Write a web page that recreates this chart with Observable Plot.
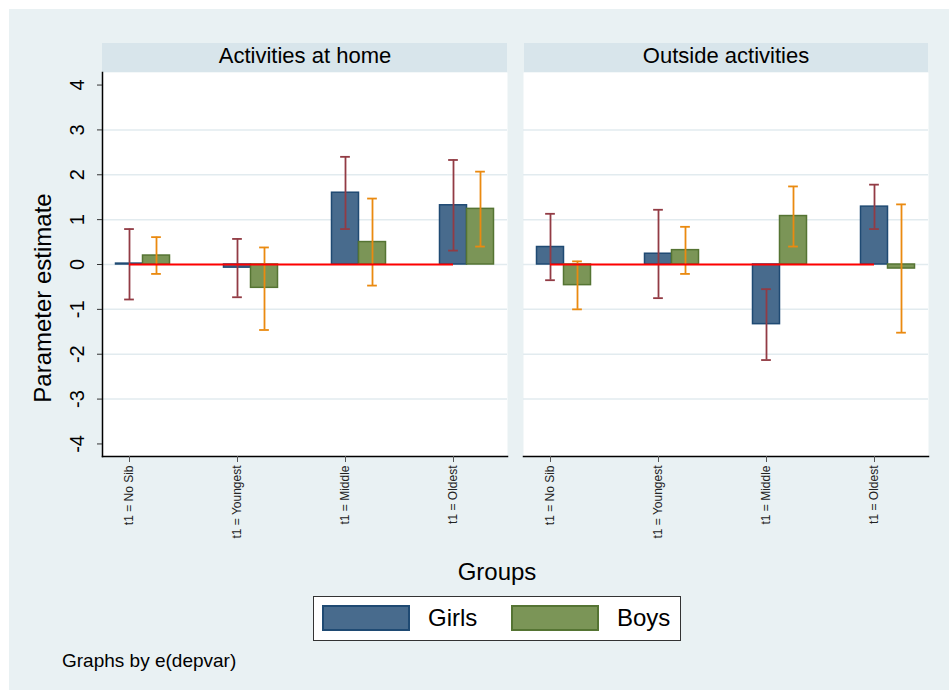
<!DOCTYPE html>
<html>
<head>
<meta charset="utf-8">
<script src="https://cdn.jsdelivr.net/npm/d3@7"></script>
<script src="https://cdn.jsdelivr.net/npm/@observablehq/plot@0.6"></script>
<style>
  html, body { margin: 0; padding: 0; background: #ffffff; }
  body { width: 949px; height: 690px; position: relative; overflow: hidden;
         font-family: "Liberation Sans", Arial, sans-serif; }
  #bg { position: absolute; left: 9px; top: 9px; width: 940px; height: 681px; background: #e9f1f3; }
  .strip { position: absolute; top: 43px; height: 29px; background: #d8e5eb; }
  #chart { position: absolute; left: 0; top: 0; }
  #ytitle { position: absolute; left: 43px; top: 298px; transform: translate(-50%, -50%) rotate(-90deg);
            font-size: 24px; white-space: nowrap; color: #000; }
  #xtitle { position: absolute; left: 497px; top: 572px; transform: translate(-50%, -50%);
            font-size: 24px; color: #000; }
  #legend { position: absolute; left: 313px; top: 596px; width: 366px; height: 43px; background: #fff;
            border: 1px solid #333; box-sizing: content-box; }
  .sw { position: absolute; top: 8px; width: 88px; height: 26px; box-sizing: border-box; border: 2px solid; }
  .lt { position: absolute; top: 21px; transform: translateY(-50%); font-size: 24px; color: #000; }
  #note { position: absolute; left: 62px; top: 661px; transform: translateY(-50%); font-size: 19px; color: #000; }
</style>
</head>
<body>
<div id="bg"></div>
<div class="strip" style="left:102px;width:405px"></div>
<div class="strip" style="left:524px;width:404px"></div>
<div id="chart"></div>
<div id="ytitle">Parameter estimate</div>
<div id="xtitle">Groups</div>
<div id="legend"></div>
<div id="note">Graphs by e(depvar)</div>
<script>
// ---- data ----
const panels = ["Activities at home", "Outside activities"];
const groups = ["t1 = No Sib", "t1 = Youngest", "t1 = Middle", "t1 = Oldest"];
const series = ["Girls", "Boys"];
const yTicks = [-4, -3, -2, -1, 0, 1, 2, 3, 4];
const gridTicks = [-3, -2, -1, 0, 1, 2, 3];

const homeGirls   = [0.02, -0.07, 1.60, 1.32];
const homeGirlsLo = [-0.78, -0.73, 0.79, 0.31];
const homeGirlsHi = [0.79, 0.57, 2.40, 2.33];
const homeBoys    = [0.20, -0.52, 0.50, 1.24];
const homeBoysLo  = [-0.21, -1.46, -0.47, 0.40];
const homeBoysHi  = [0.61, 0.38, 1.47, 2.07];

const outGirls    = [0.39, 0.24, -1.33, 1.29];
const outGirlsLo  = [-0.35, -0.75, -2.13, 0.79];
const outGirlsHi  = [1.13, 1.22, -0.55, 1.78];
const outBoys     = [-0.46, 0.32, 1.08, -0.09];
const outBoysLo   = [-1.00, -0.21, 0.40, -1.52];
const outBoysHi   = [0.07, 0.84, 1.74, 1.34];

const fillColors = {Girls: "#486b8d", Boys: "#7b9557"};
const strokeColors = {Girls: "#1f4a73", Boys: "#557433"};
const ciColors = {Girls: "#923b44", Boys: "#ea8a10"};

// ---- table built from arrays ----
const sources = [
  [panels[0], "Girls", homeGirls, homeGirlsLo, homeGirlsHi],
  [panels[0], "Boys", homeBoys, homeBoysLo, homeBoysHi],
  [panels[1], "Girls", outGirls, outGirlsLo, outGirlsHi],
  [panels[1], "Boys", outBoys, outBoysLo, outBoysHi]
];
const barWidth = 0.25;
const rows = [];
for (const [panel, s, v, lo, hi] of sources) {
  groups.forEach((g, i) => {
    const pos = i + series.indexOf(s) * barWidth;
    rows.push({panel, series: s, group: g, pos, value: v[i], lo: lo[i], hi: hi[i]});
  });
}
const capHalf = 0.045;

const chart = Plot.plot({
  width: 949,
  height: 690,
  marginTop: 72,
  marginBottom: 234,
  marginLeft: 102,
  marginRight: 21,
  style: {background: "transparent", fontFamily: "'Liberation Sans', Arial, sans-serif", color: "#000"},
  x: {domain: [-barWidth, groups.length - 1 + 2 * barWidth]},
  y: {domain: [-4.28, 4.28]},
  fx: {domain: panels, paddingInner: 16 / 421, paddingOuter: 0},
  marks: [
    Plot.frame({fill: "white", stroke: null}),
    Plot.gridY(gridTicks, {stroke: "#e2ebef", strokeOpacity: 1, strokeWidth: 1.5}),
    Plot.rect(rows, {
      fx: "panel",
      x1: d => d.pos - barWidth / 2, x2: d => d.pos + barWidth / 2,
      y1: 0, y2: "value",
      fill: d => fillColors[d.series], stroke: d => strokeColors[d.series], strokeWidth: 1.5
    }),
    Plot.ruleX(rows, {fx: "panel", x: "pos", y1: "lo", y2: "hi", stroke: d => ciColors[d.series], strokeWidth: 1.8}),
    Plot.ruleY(rows, {fx: "panel", y: "lo", x1: d => d.pos - capHalf, x2: d => d.pos + capHalf, stroke: d => ciColors[d.series], strokeWidth: 1.8}),
    Plot.ruleY(rows, {fx: "panel", y: "hi", x1: d => d.pos - capHalf, x2: d => d.pos + capHalf, stroke: d => ciColors[d.series], strokeWidth: 1.8}),
    Plot.ruleY(panels, {fx: d => d, y: () => 0, x1: () => 0, x2: () => groups.length - 1, stroke: "#ff0000", strokeWidth: 2}),
    Plot.frame({anchor: "bottom", stroke: "#000", strokeWidth: 1.5}),
    Plot.frame({anchor: "left", facetAnchor: "left", stroke: "#000", strokeWidth: 1.5}),
    Plot.axisY({ticks: yTicks, tickFormat: () => "", tickSize: 5, label: null, stroke: "#333"}),
    Plot.text(yTicks, {
      y: d => d, text: d => String(d), frameAnchor: "left", dx: -25,
      rotate: -90, textAnchor: "middle", lineAnchor: "middle",
      fontSize: 20, fill: "#000", facetAnchor: "left"
    }),
    Plot.axisX({ticks: groups.map((g, i) => i), tickFormat: i => groups[i], tickRotate: -90, tickSize: 6, tickPadding: 3, fontSize: 12, label: null, stroke: "#555", fill: "#222"}),
    Plot.axisFx({anchor: "top", tickSize: 0, tickPadding: 10, fontSize: 22, label: null})
  ]
});
document.getElementById("chart").appendChild(chart);

// legend
const legend = document.getElementById("legend");
const legendLayout = {Girls: [8, 114], Boys: [197, 303]};
for (const s of series) {
  const sw = document.createElement("div");
  sw.className = "sw";
  sw.style.left = legendLayout[s][0] + "px";
  sw.style.background = fillColors[s];
  sw.style.borderColor = strokeColors[s];
  legend.appendChild(sw);
  const t = document.createElement("div");
  t.className = "lt";
  t.style.left = legendLayout[s][1] + "px";
  t.textContent = s;
  legend.appendChild(t);
}
</script>
</body>
</html>
